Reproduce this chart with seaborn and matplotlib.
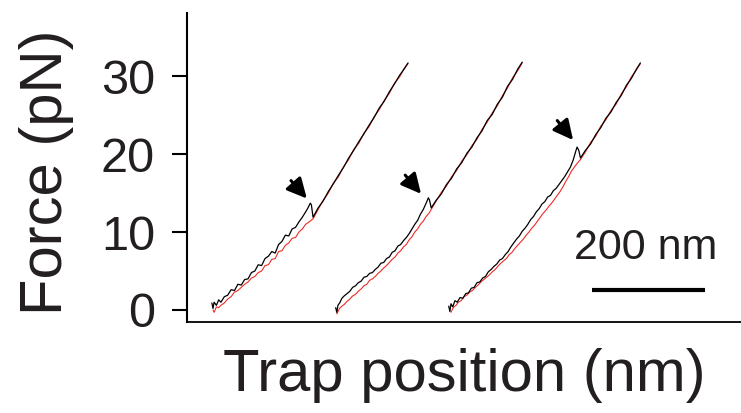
import matplotlib
matplotlib.use("Agg")
import matplotlib.pyplot as plt
import seaborn as sns
import pandas as pd

# ---------------- data (trap position in nm, force in pN) ----------------
c1_black_x = [44, 46, 48, 52, 56, 60, 66, 72, 78, 84, 90, 96, 102, 108, 114, 120, 126, 132, 138, 144,
              150, 156, 162, 168, 174, 180, 186, 192, 198, 204, 210, 214, 218, 220, 223,
              232, 241, 250, 259, 268, 277, 286, 295, 304, 313, 322, 331, 340, 349, 358, 367, 376, 385, 391]
c1_black_y = [0.9, 0.2, 1.0, 0.6, 1.3, 1.0, 1.7, 1.9, 2.6, 2.5, 3.3, 3.2, 3.9, 4.0, 4.8, 5.0, 5.8, 5.7, 6.6, 6.9,
              7.5, 7.3, 8.4, 8.8, 9.6, 9.5, 10.4, 10.6, 11.3, 11.9, 12.6, 13.1, 13.7, 13.5, 11.9,
              13.1, 14.0, 15.2, 16.2, 17.3, 18.3, 19.5, 20.5, 21.6, 22.6, 23.7, 24.7, 25.9, 26.8, 28.0, 29.0, 30.1, 31.0, 31.7]
c1_red_x = [46, 48, 52, 56, 60, 66, 72, 78, 84, 90, 96, 102, 108, 114, 120, 126, 132, 138, 144, 150,
            156, 162, 168, 174, 180, 186, 192, 198, 204, 210, 216, 223,
            232, 241, 250, 259, 268, 277, 286, 295, 304, 313, 322, 331, 340, 349, 358, 367, 376, 385, 391]
c1_red_y = [0.0, -0.3, 0.4, 0.3, 0.6, 0.9, 1.4, 1.7, 2.3, 2.5, 2.9, 3.3, 3.6, 4.1, 4.3, 4.8, 5.0, 5.7, 5.8, 6.5,
            6.6, 7.5, 7.6, 8.3, 8.6, 9.2, 9.3, 10.0, 10.4, 11.0, 11.3, 11.7,
            12.9, 14.1, 15.0, 16.3, 17.1, 18.4, 19.3, 20.6, 21.4, 22.7, 23.5, 24.8, 25.7, 26.9, 27.8, 29.1, 29.9, 31.1, 31.6]

c2_black_x = [263, 265, 267, 270, 274, 278, 283, 288, 293, 298, 303, 308, 313, 318, 323, 328, 333, 338, 343, 348,
              353, 358, 363, 368, 373, 378, 383, 388, 393, 398, 403, 408, 413, 418, 423, 427, 429, 432,
              441, 450, 459, 468, 477, 486, 495, 504, 513, 522, 531, 540, 549, 558, 567, 576, 585, 593]
c2_black_y = [0.3, -0.3, 0.6, 0.9, 1.5, 1.8, 2.1, 2.4, 2.9, 3.1, 3.5, 3.7, 4.2, 4.3, 4.7, 4.8, 5.2, 5.5, 6.0, 6.1,
              6.6, 6.8, 7.4, 7.6, 8.2, 8.4, 8.9, 9.3, 9.8, 10.4, 11.0, 11.5, 12.3, 12.9, 13.7, 14.4, 14.1, 13.1,
              14.1, 14.9, 16.1, 16.9, 18.1, 18.9, 20.1, 20.9, 22.1, 23.0, 24.3, 25.1, 26.4, 27.3, 28.7, 29.6, 30.9, 31.8]
c2_red_x = [265, 267, 270, 274, 278, 283, 288, 293, 298, 303, 308, 313, 318, 323, 328, 333, 338, 343, 348, 353,
            358, 363, 368, 373, 378, 383, 388, 393, 398, 403, 408, 413, 418, 423, 428, 432,
            441, 450, 459, 468, 477, 486, 495, 504, 513, 522, 531, 540, 549, 558, 567, 576, 585, 593]
c2_red_y = [-0.5, -0.2, 0.2, 0.5, 0.7, 1.1, 1.4, 1.8, 2.0, 2.4, 2.7, 3.1, 3.3, 3.8, 4.0, 4.3, 4.7, 5.0, 5.4, 5.7,
            6.1, 6.5, 6.8, 7.3, 7.6, 8.1, 8.4, 9.0, 9.4, 10.0, 10.4, 11.0, 11.4, 12.0, 12.4, 12.9,
            14.0, 15.1, 15.9, 17.1, 17.9, 19.1, 19.9, 21.1, 21.9, 23.2, 24.1, 25.3, 26.2, 27.5, 28.5, 29.8, 30.7, 31.7]

c3_black_x = [463, 465, 467, 470, 474, 478, 483, 488, 493, 498, 503, 508, 513, 518, 523, 528, 533, 538, 543, 548,
              553, 558, 563, 568, 573, 578, 583, 588, 593, 598, 603, 608, 613, 618, 623, 628, 633, 638, 643, 648,
              653, 658, 663, 668, 673, 678, 683, 687, 690, 693, 696,
              705, 714, 723, 732, 741, 750, 759, 768, 777, 786, 795, 802]
c3_black_y = [0.5, -0.2, 0.8, 0.4, 1.2, 1.0, 1.6, 1.5, 2.1, 2.2, 2.8, 2.9, 3.5, 3.6, 4.1, 4.3, 4.9, 5.2, 5.6, 5.9,
              6.4, 6.6, 7.1, 7.5, 8.1, 8.6, 9.1, 9.5, 10.1, 10.5, 11.0, 11.6, 12.0, 12.6, 13.0, 13.6, 13.9, 14.5, 14.7, 15.3,
              15.6, 16.1, 16.6, 17.1, 17.7, 18.3, 19.2, 20.2, 20.9, 20.5, 19.5,
              20.5, 21.3, 22.5, 23.4, 24.6, 25.4, 26.6, 27.5, 28.8, 29.7, 30.9, 31.7]
c3_red_x = [467, 469, 472, 476, 480, 485, 490, 495, 500, 505, 510, 515, 520, 525, 530, 535, 540, 545, 550, 555,
            560, 565, 570, 575, 580, 585, 590, 595, 600, 605, 610, 615, 620, 625, 630, 635, 640, 645, 650, 655,
            660, 665, 670, 675, 680, 685, 690, 696,
            705, 714, 723, 732, 741, 750, 759, 768, 777, 786, 795, 802]
c3_red_y = [-0.3, 0.0, 0.4, 0.6, 1.0, 1.2, 1.7, 1.9, 2.3, 2.5, 2.9, 3.2, 3.6, 3.9, 4.2, 4.5, 4.9, 5.2, 5.6, 6.0,
            6.3, 6.6, 7.1, 7.4, 7.9, 8.3, 8.7, 9.1, 9.6, 10.0, 10.5, 10.9, 11.4, 11.9, 12.4, 12.8, 13.3, 13.7, 14.2, 14.7,
            15.2, 15.8, 16.5, 17.1, 17.8, 18.3, 18.8, 19.3,
            20.3, 21.5, 22.3, 23.6, 24.4, 25.6, 26.4, 27.7, 28.6, 29.9, 30.8, 31.6]

# rupture arrows: (tail, head) in data units
arrow_tails = [(184, 16.6), (386, 17.3), (655, 24.3)]
arrow_heads = [(212, 14.3), (414, 14.9), (683, 21.8)]

yticks = [0, 10, 20, 30]
scalebar_nm = 200
scalebar_start = 717
scalebar_y = 2.6
scalebar_label = "200 nm"

# ---------------- plotting ----------------
sns.set_style("ticks")
plt.rcParams["font.family"] = ["Liberation Sans", "DejaVu Sans"]

fig = plt.figure(figsize=(7.41, 4.13), dpi=100)
ax = fig.add_axes([187 / 741, 91 / 413, 554 / 741, 309 / 413])

red = "#ee2b24"
series = [
    (c1_red_x, c1_red_y, red, 0.8),
    (c2_red_x, c2_red_y, red, 0.8),
    (c3_red_x, c3_red_y, red, 0.8),
    (c1_black_x, c1_black_y, "black", 0.9),
    (c2_black_x, c2_black_y, "black", 0.9),
    (c3_black_x, c3_black_y, "black", 0.9),
]
for xs, ys, col, lw in series:
    df = pd.DataFrame({"x": xs, "f": ys})
    sns.lineplot(data=df, x="x", y="f", color=col, lw=lw, sort=False,
                 estimator=None, ax=ax)

for tail, head in zip(arrow_tails, arrow_heads):
    ax.annotate("", xy=head, xytext=tail,
                arrowprops=dict(arrowstyle="-|>", color="black", lw=2.2,
                                mutation_scale=30, shrinkA=0, shrinkB=0))

# scale bar
ax.plot([scalebar_start, scalebar_start + scalebar_nm], [scalebar_y, scalebar_y],
        color="black", lw=3, solid_capstyle="butt")
ax.text(scalebar_start + scalebar_nm / 2 - 6, 6.5, scalebar_label, ha="center",
        va="baseline", fontsize=31, color="#231f20")

ax.set_xlim(0, 980)
ax.set_ylim(-1.54, 38.1)
ax.set_yticks(yticks)
ax.set_yticklabels([str(t) for t in yticks])
ax.set_xticks([])

for s in ["top", "right"]:
    ax.spines[s].set_visible(False)
ax.spines["left"].set_linewidth(1.5)
ax.spines["left"].set_color("black")
ax.spines["bottom"].set_linewidth(1.3)
ax.spines["bottom"].set_color("black")
ax.tick_params(axis="y", length=11, width=1.5, pad=12, labelsize=35,
               labelcolor="#231f20", color="black")

ax.set_ylabel("Force (pN)", fontsize=43, color="#231f20", va="center")
ax.yaxis.set_label_coords(-0.254, 0.484)
ax.set_xlabel("Trap position (nm)", fontsize=43, color="#231f20")
ax.xaxis.set_label_coords(0.5, -0.085)

fig.savefig("out.png", dpi=100)
